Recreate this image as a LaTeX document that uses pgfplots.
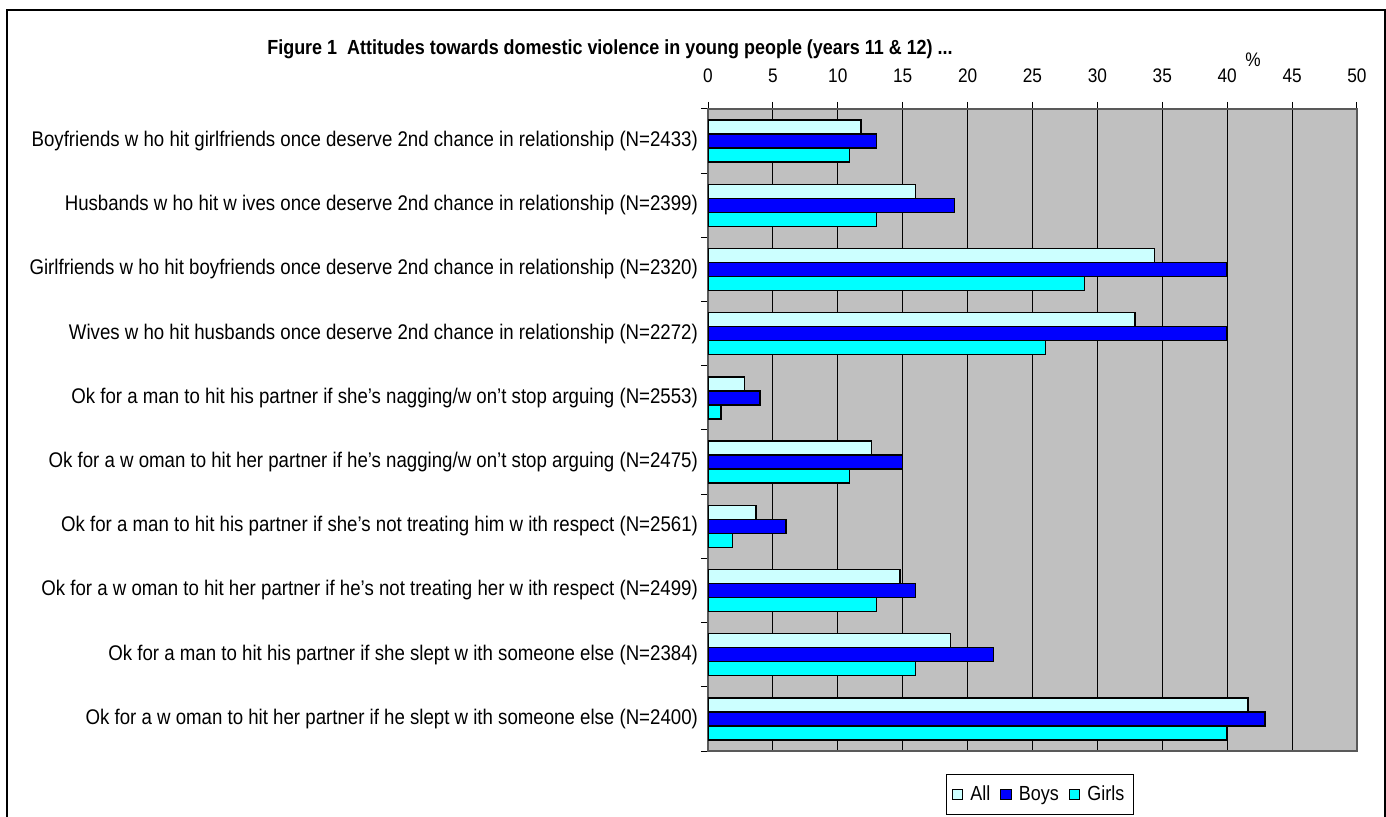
\documentclass[border=0pt]{standalone}
\usepackage{fontspec}
\setmainfont{Liberation Sans}[FakeStretch=0.88]
\usepackage{pgfplots}
\pgfplotsset{compat=1.18}
\definecolor{allc}{HTML}{CCFFFF}
\definecolor{boysc}{HTML}{0000FF}
\definecolor{girlsc}{HTML}{00FFFF}
\definecolor{plotbg}{HTML}{C0C0C0}
\begin{document}
\begin{tikzpicture}[x=0.5pt,y=0.5pt]
\path[use as bounding box] (0,0) rectangle (1386,817);
\draw[line width=0.75pt] (7,-20) -- (7,807) -- (1385,807) -- (1385,-20);
\begin{axis}[
  at={(354pt,33pt)}, anchor=south west,
  width=324.5pt, height=321pt, scale only axis,
  xbar, bar width=7pt,
  xmin=0, xmax=50, ymin=-0.5, ymax=9.5, y dir=reverse,
  axis background/.style={fill=plotbg},
  axis line style={draw=gray!70!black, line width=0.6pt},
  xtick={0,5,...,50}, xtick pos=upper, xticklabel pos=upper,
  tick align=outside, major tick length=3.5pt,
  tick style={draw=black, line width=0.5pt},
  xmajorgrids, grid style={draw=black, line width=0.5pt},
  /pgf/number format/assume math mode=true,
  xticklabel style={font=\fontsize{9.8pt}{10pt}\selectfont, yshift=6pt},
  ytick={-0.5,0.5,...,9.5}, ytick pos=left,
  y tick label as interval,
  yticklabel style={font=\fontsize{10.6pt}{11pt}\selectfont, align=right, xshift=2pt},
  yticklabels={
    {Boyfriends w ho hit girlfriends once deserve 2nd chance in relationship (N=2433)},
    {Husbands w ho hit w ives once deserve 2nd chance in relationship (N=2399)},
    {Girlfriends w ho hit boyfriends once deserve 2nd chance in relationship (N=2320)},
    {Wives w ho hit husbands once deserve 2nd chance in relationship (N=2272)},
    {Ok for a man to hit his partner if she's nagging/w on't stop arguing (N=2553)},
    {Ok for a w oman to hit her partner if he's nagging/w on't stop arguing (N=2475)},
    {Ok for a man to hit his partner if she's not treating him w ith respect (N=2561)},
    {Ok for a w oman to hit her partner if he's not treating her w ith respect (N=2499)},
    {Ok for a man to hit his partner if she slept w ith someone else (N=2384)},
    {Ok for a w oman to hit her partner if he slept w ith someone else (N=2400)}},
  legend columns=3,
  legend style={at={(axis description cs:0.5116,-0.0678)}, anchor=center,
    draw=black, line width=0.5pt, font=\fontsize{10.2pt}{11pt}\selectfont,
    inner xsep=2.5pt, inner ysep=3.5pt,
    /tikz/every odd column/.append style={column sep=1.5pt},
    /tikz/every even column/.append style={column sep=3pt}},
  legend image code/.code={\draw[#1,draw=black,line width=0.6pt] (0pt,-2.6pt) rectangle (5.2pt,2.6pt);},
]
\addplot[fill=allc, draw=black, line width=0.75pt, bar shift=7pt] coordinates {
(11.8,0) (16,1) (34.4,2) (32.9,3) (2.8,4) (12.6,5) (3.7,6) (14.8,7) (18.7,8) (41.6,9)};
\addlegendentry{All}
\addplot[fill=boysc, draw=black, line width=0.75pt, bar shift=0pt] coordinates {
(13,0) (19,1) (40,2) (40,3) (4,4) (15,5) (6,6) (16,7) (22,8) (42.9,9)};
\addlegendentry{Boys}
\addplot[fill=girlsc, draw=black, line width=0.75pt, bar shift=-7pt] coordinates {
(10.9,0) (13,1) (29,2) (26,3) (1,4) (10.9,5) (1.9,6) (13,7) (16,8) (40,9)};
\addlegendentry{Girls}
\end{axis}
\node[anchor=base, font=\bfseries\fontsize{10.2pt}{11pt}\selectfont] at (610,762)
  {Figure 1\ \ Attitudes towards domestic violence in young people (years 11 \& 12) ...};
\node[font=\fontsize{9.8pt}{10pt}\selectfont] at (1253,757) {\%};
\end{tikzpicture}
\end{document}
